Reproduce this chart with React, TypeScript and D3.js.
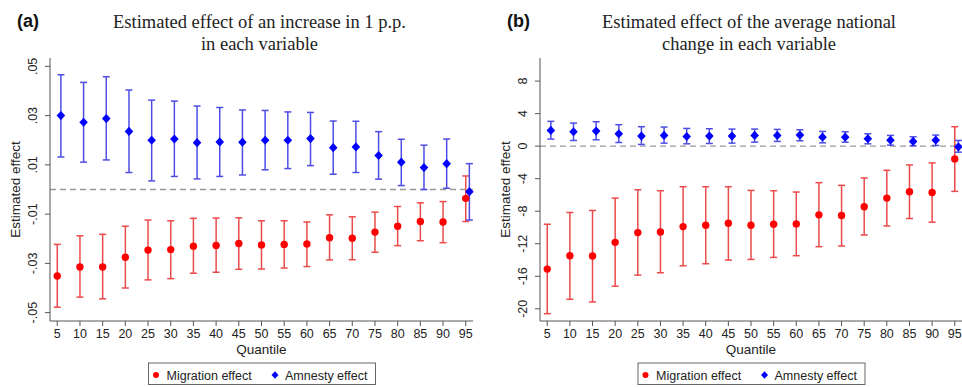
import React from "react";
import * as d3 from "d3";

const quantiles = [5, 10, 15, 20, 25, 30, 35, 40, 45, 50, 55, 60, 65, 70, 75, 80, 85, 90, 95];

// Panel (a): effect of an increase in 1 p.p.
const aMigEst = [-0.0351, -0.0315, -0.0315, -0.0275, -0.0246, -0.0244, -0.023, -0.0227, -0.0219, -0.0225, -0.0223, -0.0221, -0.0196, -0.0198, -0.0173, -0.0149, -0.013, -0.0132, -0.0036];
const aMigLo = [-0.0478, -0.0437, -0.0444, -0.04, -0.0367, -0.0362, -0.034, -0.0336, -0.0324, -0.0323, -0.0319, -0.0313, -0.0286, -0.0285, -0.0255, -0.0228, -0.0208, -0.0216, -0.013];
const aMigHi = [-0.0223, -0.0188, -0.0182, -0.0149, -0.0124, -0.0127, -0.0117, -0.0116, -0.0115, -0.0127, -0.0127, -0.0132, -0.0103, -0.0111, -0.0092, -0.0069, -0.0054, -0.0049, 0.0055];
const aAmnEst = [0.03, 0.0273, 0.0288, 0.0236, 0.02, 0.0205, 0.019, 0.0193, 0.0192, 0.02, 0.02, 0.0207, 0.017, 0.0173, 0.0138, 0.0111, 0.0089, 0.0105, -0.0009];
const aAmnLo = [0.0132, 0.0111, 0.012, 0.0069, 0.0035, 0.0053, 0.0043, 0.0053, 0.0059, 0.008, 0.0085, 0.0097, 0.0062, 0.0069, 0.0042, 0.0016, 0.0, 0.0005, -0.0124];
const aAmnHi = [0.0466, 0.0435, 0.0458, 0.0404, 0.0363, 0.0359, 0.0339, 0.0333, 0.0323, 0.0321, 0.0315, 0.0313, 0.0278, 0.0277, 0.0235, 0.0204, 0.018, 0.0205, 0.0105];
const aTicks = [-0.05, -0.03, -0.01, 0.01, 0.03, 0.05];
const aTickLabels = ["-.05", "-.03", "-.01", ".01", ".03", ".05"];

// Panel (b): effect of the average national change
const bMigEst = [-15.12, -13.47, -13.51, -11.83, -10.63, -10.55, -9.89, -9.72, -9.48, -9.72, -9.6, -9.56, -8.45, -8.53, -7.46, -6.39, -5.6, -5.69, -1.57];
const bMigLo = [-20.6, -18.83, -19.16, -17.22, -15.86, -15.57, -14.71, -14.46, -14.01, -13.93, -13.68, -13.47, -12.36, -12.28, -10.92, -9.81, -8.9, -9.35, -5.56];
const bMigHi = [-9.6, -8.16, -7.91, -6.39, -5.36, -5.48, -4.99, -4.99, -4.99, -5.44, -5.48, -5.64, -4.49, -4.82, -3.91, -2.97, -2.31, -2.06, 2.39];
const bAmnEst = [1.94, 1.77, 1.85, 1.52, 1.24, 1.32, 1.19, 1.24, 1.24, 1.32, 1.32, 1.36, 1.11, 1.11, 0.91, 0.74, 0.58, 0.74, -0.08];
const bAmnLo = [0.87, 0.7, 0.78, 0.45, 0.21, 0.37, 0.29, 0.33, 0.37, 0.49, 0.58, 0.66, 0.41, 0.49, 0.29, 0.12, 0.04, 0.08, -0.74];
const bAmnHi = [3.05, 2.84, 3.0, 2.64, 2.39, 2.35, 2.18, 2.14, 2.1, 2.1, 2.06, 2.02, 1.81, 1.77, 1.52, 1.32, 1.15, 1.36, 0.7];
const bTicks = [-20, -16, -12, -8, -4, 0, 4, 8];
const bTickLabels = ["-20", "-16", "-12", "-8", "-4", "0", "4", "8"];

const legendLabels = ["Migration effect", "Amnesty effect"];

const SANS = "'Liberation Sans', Arial, sans-serif";
const SERIF = "'Liberation Serif', 'Times New Roman', serif";
const AXIS = "#555";
const RED = "#ff0000";
const RED_BAR = "#ec4a4a";
const BLUE = "#0000ff";
const BLUE_BAR = "#4d4de6";

const diamondPath = (hw: number, hh: number) => {
  const p = d3.path();
  p.moveTo(0, -hh);
  p.lineTo(hw, 0);
  p.lineTo(0, hh);
  p.lineTo(-hw, 0);
  p.closePath();
  return p.toString();
};

type PanelProps = {
  letter: string;
  title: string[];
  x0: number;
  x1: number;
  yDomain: [number, number];
  ticks: number[];
  tickLabels: string[];
  mig: number[][];
  amn: number[][];
};

function Panel({ letter, title, x0, x1, yDomain, ticks, tickLabels, mig, amn }: PanelProps) {
  const top = 58;
  const bottom = 321;
  const x = d3.scaleLinear().domain([3.4, 96.6]).range([x0, x1]);
  const y = d3.scaleLinear().domain(yDomain).range([bottom, top]);
  const cx = (x0 + x1) / 2;
  const cap = 3.5;
  const offset = 0.8;

  const bars = (est: number[], lo: number[], hi: number[], dx: number, color: string, key: string) =>
    quantiles.map((q, i) => {
      const px = x(q + dx);
      return (
        <g key={key + i} stroke={color} strokeWidth={1.5}>
          <line x1={px} x2={px} y1={y(lo[i])} y2={y(hi[i])} />
          <line x1={px - cap} x2={px + cap} y1={y(lo[i])} y2={y(lo[i])} />
          <line x1={px - cap} x2={px + cap} y1={y(hi[i])} y2={y(hi[i])} />
        </g>
      );
    });

  const diamond = diamondPath(4.3, 4.6);
  const legX = cx - 113;

  return (
    <g>
      <text x={x0 - 33} y={27} fontFamily={SANS} fontSize={18} fontWeight="bold" fill="#111">
        {"(" + letter + ")"}
      </text>
      {title.map((t, i) => (
        <text key={t} x={cx - 2} y={28 + i * 22} textAnchor="middle" fontFamily={SERIF} fontSize={18.5} fill="#222">
          {t}
        </text>
      ))}
      {/* zero reference line */}
      <line x1={x0} x2={x1} y1={y(0)} y2={y(0)} stroke="#999" strokeWidth={1.3} strokeDasharray="6,4" />
      {bars(mig[0], mig[1], mig[2], 0, RED_BAR, "mb")}
      {bars(amn[0], amn[1], amn[2], offset, BLUE_BAR, "ab")}
      {quantiles.map((q, i) => (
        <circle key={"mp" + i} cx={x(q)} cy={y(mig[0][i])} r={3.7} fill={RED} />
      ))}
      {quantiles.map((q, i) => (
        <path key={"ap" + i} d={diamond} transform={`translate(${x(q + offset)},${y(amn[0][i])})`} fill={BLUE} />
      ))}
      {/* y axis */}
      <line x1={x0} x2={x0} y1={top} y2={bottom} stroke={AXIS} strokeWidth={1} />
      {ticks.map((t, i) => (
        <g key={"yt" + i}>
          <line x1={x0 - 5} x2={x0} y1={y(t)} y2={y(t)} stroke={AXIS} />
          <text
            transform={`translate(${x0 - 17},${y(t)}) rotate(-90)`}
            textAnchor="middle"
            dominantBaseline="central"
            fontFamily={SANS}
            fontSize={12.5}
            fill="#222"
          >
            {tickLabels[i]}
          </text>
        </g>
      ))}
      <text
        transform={`translate(${x0 - 35},${(top + bottom) / 2}) rotate(-90)`}
        textAnchor="middle"
        dominantBaseline="central"
        fontFamily={SANS}
        fontSize={13.5}
        fill="#222"
      >
        Estimated effect
      </text>
      {/* x axis */}
      <line x1={x0} x2={x1} y1={bottom} y2={bottom} stroke={AXIS} strokeWidth={1} />
      {quantiles.map((q) => (
        <g key={"xt" + q}>
          <line x1={x(q)} x2={x(q)} y1={bottom} y2={bottom + 5} stroke={AXIS} />
          <text x={x(q)} y={337.5} textAnchor="middle" fontFamily={SANS} fontSize={12.5} fill="#222">
            {q}
          </text>
        </g>
      ))}
      <text x={cx} y={354} textAnchor="middle" fontFamily={SANS} fontSize={13.5} fill="#222">
        Quantile
      </text>
      {/* legend */}
      <rect x={legX} y={363} width={227} height={21.5} fill="white" stroke="#666" strokeWidth={1} />
      <circle cx={legX + 7.5} cy={375} r={3} fill={RED} />
      <text x={legX + 18} y={379.5} fontFamily={SANS} fontSize={12.5} fill="#222">
        {legendLabels[0]}
      </text>
      <path d={diamondPath(3.5, 3.7)} transform={`translate(${legX + 126.5},375)`} fill={BLUE} />
      <text x={legX + 136.5} y={379.5} fontFamily={SANS} fontSize={12.5} fill="#222">
        {legendLabels[1]}
      </text>
    </g>
  );
}

export default function App() {
  return (
    <svg width={962} height={387} style={{ position: "absolute", left: 0, top: 0, background: "white" }}>
      <rect width={962} height={387} fill="white" />
      <Panel
        letter="a"
        title={["Estimated effect of an increase in 1 p.p.", "in each variable"]}
        x0={50}
        x1={473}
        yDomain={[-0.0534, 0.0534]}
        ticks={aTicks}
        tickLabels={aTickLabels}
        mig={[aMigEst, aMigLo, aMigHi]}
        amn={[aAmnEst, aAmnLo, aAmnHi]}
      />
      <Panel
        letter="b"
        title={["Estimated effect of the average national", "change in each variable"]}
        x0={540}
        x1={962}
        yDomain={[-21.5, 10.84]}
        ticks={bTicks}
        tickLabels={bTickLabels}
        mig={[bMigEst, bMigLo, bMigHi]}
        amn={[bAmnEst, bAmnLo, bAmnHi]}
      />
    </svg>
  );
}
